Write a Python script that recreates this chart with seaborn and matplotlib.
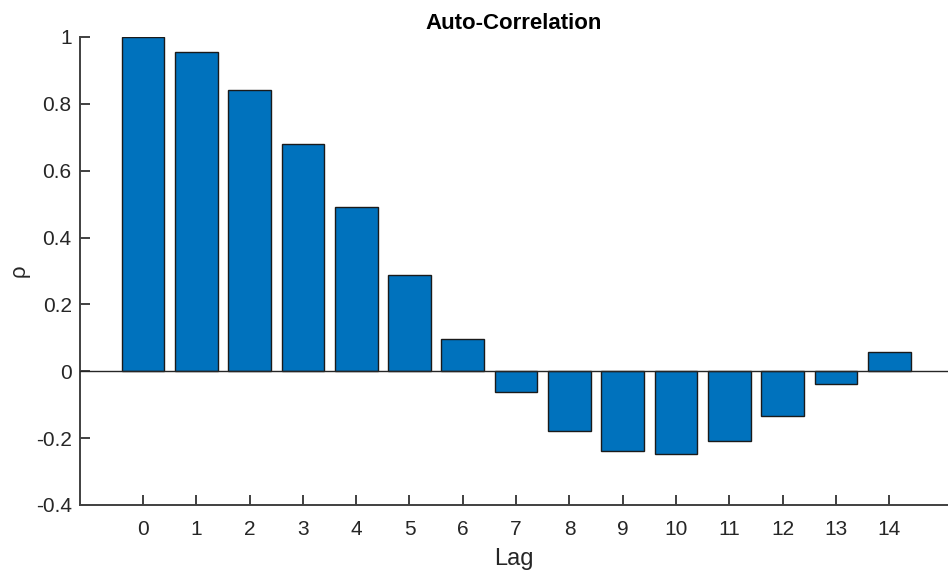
import matplotlib
matplotlib.use("Agg")
import matplotlib.pyplot as plt
import seaborn as sns
import numpy as np

lags = list(range(15))
rho = [1.0, 0.954, 0.842, 0.68, 0.49, 0.289, 0.097, -0.062, -0.179, -0.239,
       -0.247, -0.209, -0.135, -0.038, 0.059]
yticks = [-0.4, -0.2, 0, 0.2, 0.4, 0.6, 0.8, 1]
ytick_labels = ["-0.4", "-0.2", "0", "0.2", "0.4", "0.6", "0.8", "1"]

sns.set_style("white")
plt.rcParams['font.family'] = ['Liberation Sans', 'DejaVu Sans']

fig = plt.figure(figsize=(9.48, 5.76), dpi=100)
ax = fig.add_axes([80/948, 1-505/576, 1-80/948, (505-37)/576])

sns.barplot(x=lags, y=rho, ax=ax, color="#0072BD", saturation=1, width=0.8,
            edgecolor="#1a1a1a", linewidth=1.0, zorder=2)

ax.axhline(0, color="#262626", linewidth=1.0, zorder=3)
ax.set_xlim(-1.18, 15.1)
ax.set_ylim(-0.4, 1.0)
ax.set_yticks(yticks)
ax.set_yticklabels(ytick_labels)
ax.set_xticks(range(len(lags)))
ax.set_xticklabels([str(l) for l in lags])

for s in ["top", "right"]:
    ax.spines[s].set_visible(False)
for s in ["left", "bottom"]:
    ax.spines[s].set_color("#404040")
    ax.spines[s].set_linewidth(1.4)

ax.tick_params(axis="both", which="major", direction="in", length=7, width=1.4,
               color="#404040", labelsize=15, labelcolor="#262626",
               bottom=True, left=True, top=False, right=False)
ax.tick_params(axis="x", pad=11)
ax.tick_params(axis="y", pad=6)

ax.set_xlabel("Lag", fontsize=17, color="#262626", labelpad=6)
ax.set_ylabel("ρ", fontsize=16, color="#262626", labelpad=4)
ax.set_title("Auto-Correlation", fontsize=16, fontweight="bold", color="black", pad=6)

fig.savefig("out.png", dpi=100)
